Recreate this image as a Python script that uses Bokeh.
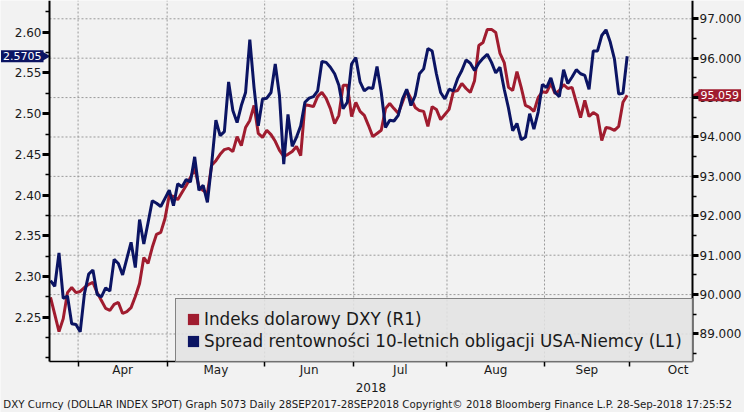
import numpy as np
import pandas as pd
from bokeh.plotting import figure
from bokeh.models import (LinearAxis, Range1d, FixedTicker, Legend, LegendItem, Label,
                          NumeralTickFormatter, ColumnDataSource)
from bokeh.embed import file_html
from bokeh.resources import INLINE

# ---------------- data ----------------
start_date = "2018-03-22"
end_date = "2018-09-28"
month_labels = ["Apr", "May", "Jun", "Jul", "Aug", "Sep", "Oct"]
month_numbers = [4, 5, 6, 7, 8, 9, 10]
year_label = "2018"

# Spread rentownosci 10-letnich obligacji USA-Niemcy (L1), daily
spread_l1 = [
    2.295, 2.288, 2.329, 2.273, 2.276, 2.242, 2.241, 2.232, 2.279, 2.303,
    2.308, 2.278, 2.275, 2.286, 2.282, 2.321, 2.316, 2.302, 2.322, 2.342,
    2.311, 2.370, 2.340, 2.366, 2.393, 2.390, 2.386, 2.396, 2.406, 2.387,
    2.414, 2.410, 2.419, 2.416, 2.447, 2.406, 2.412, 2.391, 2.438, 2.492,
    2.473, 2.478, 2.539, 2.504, 2.489, 2.510, 2.526, 2.591, 2.532, 2.485,
    2.518, 2.519, 2.526, 2.561, 2.522, 2.438, 2.499, 2.460, 2.471, 2.485,
    2.514, 2.519, 2.521, 2.528, 2.564, 2.563, 2.557, 2.549, 2.535, 2.506,
    2.514, 2.561, 2.569, 2.539, 2.528, 2.532, 2.531, 2.558, 2.526, 2.483,
    2.492, 2.491, 2.498, 2.518, 2.530, 2.510, 2.522, 2.549, 2.555, 2.580,
    2.577, 2.549, 2.526, 2.518, 2.530, 2.528, 2.543, 2.553, 2.566, 2.562,
    2.553, 2.562, 2.568, 2.573, 2.563, 2.550, 2.557, 2.530, 2.507, 2.479,
    2.488, 2.468, 2.471, 2.500, 2.481, 2.502, 2.536, 2.532, 2.544, 2.526,
    2.521, 2.554, 2.537, 2.545, 2.554, 2.549, 2.547, 2.530, 2.577, 2.577,
    2.596, 2.603, 2.588, 2.567, 2.524, 2.525, 2.5705,
]

# Indeks dolarowy DXY (R1), daily
dxy_r1 = [
    89.93, 89.50, 89.06, 89.39, 90.05, 90.18, 90.05, 90.08, 90.18, 90.26,
    90.31, 90.05, 89.85, 89.65, 89.60, 89.75, 89.80, 89.52, 89.57, 89.67,
    89.95, 90.28, 90.94, 90.79, 91.20, 91.53, 91.58, 91.93, 92.52, 92.49,
    92.41, 92.59, 92.77, 92.97, 93.20, 92.74, 92.64, 92.57, 93.28, 93.40,
    93.56, 93.68, 93.71, 93.63, 94.01, 93.78, 94.24, 94.42, 94.80, 94.09,
    93.99, 94.17, 94.06, 93.89, 93.66, 93.51, 93.56, 93.63, 93.76, 93.53,
    94.82, 94.80, 94.77, 95.03, 95.13, 94.98, 94.72, 94.34, 94.55, 95.31,
    95.31, 94.52, 94.88, 94.65, 94.55, 94.29, 94.01, 94.09, 94.17, 94.72,
    94.85, 94.72, 94.60, 94.88, 95.18, 94.98, 94.75, 94.67, 94.65, 94.27,
    94.77, 94.70, 94.44, 94.57, 94.70, 95.15, 95.18, 95.36, 95.23, 95.13,
    95.43, 96.32, 96.40, 96.73, 96.73, 96.65, 96.12, 95.89, 95.26, 95.18,
    95.66, 95.26, 94.80, 94.75, 94.65, 95.00, 95.15, 95.13, 95.36, 95.10,
    95.18, 95.33, 95.23, 95.26, 94.88, 94.49, 94.93, 94.52, 94.62, 94.55,
    93.91, 94.24, 94.22, 94.17, 94.27, 94.88, 95.059,
]

left_ticks = [2.25, 2.30, 2.35, 2.40, 2.45, 2.50, 2.55, 2.60]
left_minor = [2.20, 2.225, 2.275, 2.325, 2.375, 2.425, 2.475, 2.525, 2.575, 2.625]
right_ticks = [89, 90, 91, 92, 93, 94, 95, 96, 97]
right_minor = [88.5, 89.5, 90.5, 91.5, 92.5, 93.5, 94.5, 95.5, 96.5, 97.5]

last_l1_text = "2.5705"
last_r1_text = "95.059"
legend_r1 = "Indeks dolarowy DXY (R1)"
legend_l1 = "Spread rentowności 10-letnich obligacji USA-Niemcy (L1)"
footer = ("DXY Curncy (DOLLAR INDEX SPOT) Graph 5073  Daily 28SEP2017-28SEP2018  "
          "Copyright\u00a9 2018 Bloomberg Finance L.P.  28-Sep-2018 17:25:52")

# visible value window of the plot area
x_lo, x_hi = -0.24, 151.4
l_lo, l_hi = 2.1956, 2.639
r_lo, r_hi = 88.302, 97.464

# ---------------- trading-day axis ----------------
dates = pd.bdate_range(start_date, end_date)
idx = np.arange(len(dates))
cal = pd.bdate_range(start_date, "2018-10-31")
boundaries, mids = [], []
for m in month_numbers:
    pos = np.where(cal.month == m)[0]
    boundaries.append(float(pos[0]) - 0.5)
    mids.append((float(pos[0]) + float(pos[-1])) / 2.0)

# ---------------- layout (pixels inside the canvas) ----------------
W, H = 744, 412
PL, PR, PT, PB = 49, 692, 0, 361   # plot-area edges
kx = (x_hi - x_lo) / (PR - PL)
kl = (l_hi - l_lo) / (PB - PT)
kr = (r_hi - r_lo) / (PB - PT)

RED = "#a01c2f"
NAVY = "#0b1463"
BG = "#f2f2f2"
TXT = "#1a1a1a"
GRID = "#9a9a9a"
FONT = "DejaVu Sans"

p = figure(width=W, height=H, output_backend="svg", toolbar_location=None,
           x_range=Range1d(x_lo - PL * kx, x_hi + (W - PR) * kx),
           y_range=Range1d(l_lo - (H - PB) * kl, l_hi + PT * kl),
           min_border_left=0, min_border_right=0, min_border_top=0, min_border_bottom=0,
           background_fill_color=BG, border_fill_color=BG, outline_line_color=None)
p.extra_y_ranges = {"r": Range1d(r_lo - (H - PB) * kr, r_hi + PT * kr)}
p.xgrid.visible = False
p.ygrid.visible = False

# dotted grid limited to the plot area
p.segment(x0=boundaries, x1=boundaries, y0=[l_lo] * len(boundaries), y1=[l_hi] * len(boundaries),
          line_color=GRID, line_dash="2 2", line_width=1)
p.segment(x0=[x_lo] * len(right_ticks), x1=[x_hi] * len(right_ticks), y0=right_ticks, y1=right_ticks,
          y_range_name="r", line_color=GRID, line_dash="2 2", line_width=1)

# x axis
xa = p.xaxis[0]
xa.fixed_location = l_lo
xa.bounds = (x_lo, x_hi)
xa.ticker = FixedTicker(ticks=mids, minor_ticks=boundaries)
xa.major_label_overrides = {mv: lab for mv, lab in zip(mids, month_labels)}
xa.major_tick_out = 0
xa.major_tick_in = 0
xa.minor_tick_out = 5
xa.minor_tick_in = 0
xa.minor_tick_line_color = "black"
xa.minor_tick_line_width = 1.5
xa.axis_line_color = "black"
xa.axis_line_width = 1.5
xa.major_label_standoff = -4
xa.major_label_text_font = FONT
xa.major_label_text_font_size = "12px"
xa.major_label_text_color = TXT
xa.axis_label = year_label
xa.axis_label_standoff = 3
xa.axis_label_text_font = FONT
xa.axis_label_text_font_size = "12px"
xa.axis_label_text_font_style = "normal"
xa.axis_label_text_color = TXT

# left axis
ya = p.yaxis[0]
ya.fixed_location = x_lo
ya.bounds = (l_lo, l_hi)
ya.ticker = FixedTicker(ticks=left_ticks, minor_ticks=left_minor)
ya.formatter = NumeralTickFormatter(format="0.00")
ya.major_tick_out = 7
ya.major_tick_in = 0
ya.major_tick_line_width = 3
ya.major_tick_line_color = "black"
ya.minor_tick_out = 4
ya.minor_tick_in = 0
ya.minor_tick_line_width = 1.5
ya.minor_tick_line_color = "black"
ya.axis_line_width = 2
ya.axis_line_color = "black"
ya.major_label_standoff = 1
ya.major_label_text_font = FONT
ya.major_label_text_font_size = "12px"
ya.major_label_text_color = TXT

# right axis
yr = LinearAxis(y_range_name="r", fixed_location=x_hi, bounds=(r_lo, r_hi),
                ticker=FixedTicker(ticks=right_ticks, minor_ticks=right_minor),
                formatter=NumeralTickFormatter(format="0.000"),
                major_tick_out=6, major_tick_in=0, major_tick_line_width=3,
                major_tick_line_color="black",
                minor_tick_out=4, minor_tick_in=0, minor_tick_line_width=1.5,
                minor_tick_line_color="black",
                axis_line_width=2, axis_line_color="black",
                major_label_standoff=1, major_label_text_font=FONT,
                major_label_text_font_size="12px", major_label_text_color=TXT)
p.add_layout(yr, "right")

# lines
src = ColumnDataSource(dict(x=idx, l1=spread_l1, r1=dxy_r1))
p.line("x", "r1", source=src, y_range_name="r", line_color=RED, line_width=3)
p.line("x", "l1", source=src, line_color=NAVY, line_width=3)

# legend swatches (not drawn in the plot: NaN position)
nan1 = np.array([np.nan])
sw_red = p.quad(left=nan1, right=nan1, top=nan1, bottom=nan1, fill_color=RED, line_color=None)
sw_navy = p.quad(left=nan1, right=nan1, top=nan1, bottom=nan1, fill_color=NAVY, line_color=None)
legend = Legend(items=[LegendItem(label=legend_r1, renderers=[sw_red]),
                       LegendItem(label=legend_l1, renderers=[sw_navy])],
                location=(175, 50), padding=10, spacing=2,
                glyph_width=14, glyph_height=14, label_height=19, label_standoff=4,
                label_text_font=FONT, label_text_font_size="16.8px", label_text_color=TXT,
                background_fill_color="#e3e3e3", background_fill_alpha=0.85,
                border_line_color="#222222", border_line_width=1.2)
p.add_layout(legend)

# last-value tags (box + arrow pointing at the axis)
p.scatter(x=[x_lo - 6 * kx], y=[spread_l1[-1]], marker="triangle", size=12, angle=-np.pi / 2,
          fill_color=NAVY, line_color=None)
p.scatter(x=[x_hi + 6 * kx], y=[dxy_r1[-1]], y_range_name="r", marker="triangle", size=12,
          angle=np.pi / 2, fill_color=RED, line_color=None)
p.add_layout(Label(x=x_lo, y=spread_l1[-1], text=last_l1_text, x_offset=-6,
                   text_align="right", text_baseline="middle", text_color="white",
                   text_font=FONT, text_font_size="11px",
                   background_fill_color=NAVY, padding=2))
p.add_layout(Label(x=x_hi, y=dxy_r1[-1], y_range_name="r", text=last_r1_text, x_offset=6,
                   text_align="left", text_baseline="middle", text_color="white",
                   text_font=FONT, text_font_size="11px",
                   background_fill_color=RED, padding=2))

# footer
p.add_layout(Label(x=W / 2, y=9, x_units="screen", y_units="screen", text=footer,
                   text_align="center", text_baseline="middle", text_font=FONT,
                   text_font_size="10.25px", text_color=TXT))

open("out.html", "w").write(file_html(p, INLINE))
